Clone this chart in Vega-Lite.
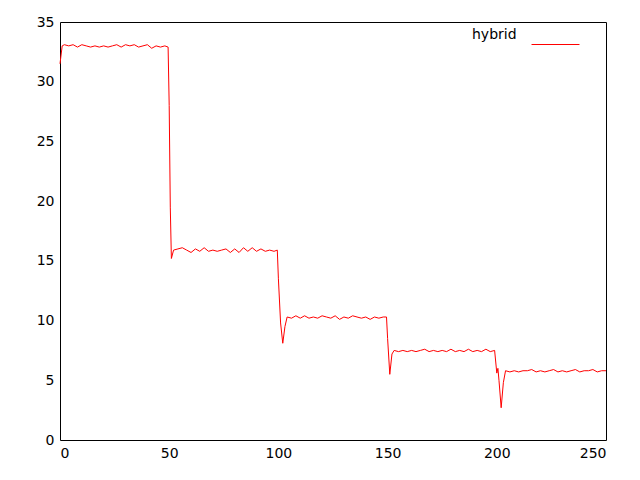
{
  "$schema": "https://vega.github.io/schema/vega-lite/v6.json",
  "width": 546, "height": 418,
  "autosize": "none",
  "padding": {"left": 60, "top": 22, "right": 34, "bottom": 40},
  "background": "white",
  "config": {
    "view": {"stroke": "black", "strokeWidth": 1},
    "axis": {"grid": false, "domain": false, "ticks": false, "labelFont": "DejaVu Sans", "labelFontSize": 14, "labelColor": "black", "labelPadding": 6, "title": null}
  },
  "data": {"values": [
    {"x":0,"y":31.5,"s":"hybrid"},{"x":1,"y":33.0,"s":"hybrid"},{"x":2,"y":33.1,"s":"hybrid"},{"x":4,"y":33.0,"s":"hybrid"},{"x":6,"y":33.1,"s":"hybrid"},{"x":8,"y":32.9,"s":"hybrid"},{"x":10,"y":33.1,"s":"hybrid"},{"x":12,"y":33.0,"s":"hybrid"},{"x":14,"y":32.9,"s":"hybrid"},{"x":16,"y":33.0,"s":"hybrid"},{"x":18,"y":32.9,"s":"hybrid"},{"x":20,"y":33.0,"s":"hybrid"},{"x":22,"y":32.9,"s":"hybrid"},{"x":24,"y":33.0,"s":"hybrid"},{"x":26,"y":33.1,"s":"hybrid"},{"x":28,"y":32.9,"s":"hybrid"},{"x":30,"y":33.1,"s":"hybrid"},{"x":32,"y":33.0,"s":"hybrid"},{"x":34,"y":33.1,"s":"hybrid"},{"x":36,"y":32.9,"s":"hybrid"},{"x":38,"y":33.0,"s":"hybrid"},{"x":40,"y":33.1,"s":"hybrid"},{"x":42,"y":32.8,"s":"hybrid"},{"x":44,"y":33.0,"s":"hybrid"},{"x":46,"y":32.9,"s":"hybrid"},{"x":48,"y":33.0,"s":"hybrid"},{"x":49.5,"y":32.9,"s":"hybrid"},{"x":50,"y":28.0,"s":"hybrid"},{"x":50.5,"y":19.5,"s":"hybrid"},{"x":51,"y":15.2,"s":"hybrid"},{"x":52,"y":15.9,"s":"hybrid"},{"x":54,"y":16.0,"s":"hybrid"},{"x":56,"y":16.1,"s":"hybrid"},{"x":58,"y":15.9,"s":"hybrid"},{"x":60,"y":15.7,"s":"hybrid"},{"x":62,"y":16.0,"s":"hybrid"},{"x":64,"y":15.8,"s":"hybrid"},{"x":66,"y":16.1,"s":"hybrid"},{"x":68,"y":15.8,"s":"hybrid"},{"x":70,"y":15.9,"s":"hybrid"},{"x":72,"y":15.8,"s":"hybrid"},{"x":74,"y":15.9,"s":"hybrid"},{"x":76,"y":16.0,"s":"hybrid"},{"x":78,"y":15.7,"s":"hybrid"},{"x":80,"y":16.0,"s":"hybrid"},{"x":82,"y":15.7,"s":"hybrid"},{"x":84,"y":16.1,"s":"hybrid"},{"x":86,"y":15.8,"s":"hybrid"},{"x":88,"y":16.1,"s":"hybrid"},{"x":90,"y":15.8,"s":"hybrid"},{"x":92,"y":16.0,"s":"hybrid"},{"x":94,"y":15.8,"s":"hybrid"},{"x":96,"y":15.9,"s":"hybrid"},{"x":98,"y":15.8,"s":"hybrid"},{"x":99.5,"y":15.9,"s":"hybrid"},{"x":100,"y":13.5,"s":"hybrid"},{"x":101,"y":9.8,"s":"hybrid"},{"x":102,"y":8.1,"s":"hybrid"},{"x":103,"y":9.5,"s":"hybrid"},{"x":104,"y":10.3,"s":"hybrid"},{"x":106,"y":10.2,"s":"hybrid"},{"x":108,"y":10.4,"s":"hybrid"},{"x":110,"y":10.2,"s":"hybrid"},{"x":112,"y":10.4,"s":"hybrid"},{"x":114,"y":10.2,"s":"hybrid"},{"x":116,"y":10.3,"s":"hybrid"},{"x":118,"y":10.2,"s":"hybrid"},{"x":120,"y":10.4,"s":"hybrid"},{"x":122,"y":10.3,"s":"hybrid"},{"x":124,"y":10.2,"s":"hybrid"},{"x":126,"y":10.4,"s":"hybrid"},{"x":128,"y":10.1,"s":"hybrid"},{"x":130,"y":10.3,"s":"hybrid"},{"x":132,"y":10.2,"s":"hybrid"},{"x":134,"y":10.4,"s":"hybrid"},{"x":136,"y":10.3,"s":"hybrid"},{"x":138,"y":10.2,"s":"hybrid"},{"x":140,"y":10.3,"s":"hybrid"},{"x":142,"y":10.1,"s":"hybrid"},{"x":144,"y":10.3,"s":"hybrid"},{"x":146,"y":10.2,"s":"hybrid"},{"x":148,"y":10.3,"s":"hybrid"},{"x":149.5,"y":10.3,"s":"hybrid"},{"x":150,"y":8.5,"s":"hybrid"},{"x":151,"y":5.5,"s":"hybrid"},{"x":152,"y":7.2,"s":"hybrid"},{"x":153,"y":7.5,"s":"hybrid"},{"x":155,"y":7.4,"s":"hybrid"},{"x":157,"y":7.5,"s":"hybrid"},{"x":159,"y":7.4,"s":"hybrid"},{"x":161,"y":7.5,"s":"hybrid"},{"x":163,"y":7.4,"s":"hybrid"},{"x":165,"y":7.5,"s":"hybrid"},{"x":167,"y":7.6,"s":"hybrid"},{"x":169,"y":7.4,"s":"hybrid"},{"x":171,"y":7.5,"s":"hybrid"},{"x":173,"y":7.4,"s":"hybrid"},{"x":175,"y":7.5,"s":"hybrid"},{"x":177,"y":7.4,"s":"hybrid"},{"x":179,"y":7.6,"s":"hybrid"},{"x":181,"y":7.4,"s":"hybrid"},{"x":183,"y":7.5,"s":"hybrid"},{"x":185,"y":7.4,"s":"hybrid"},{"x":187,"y":7.6,"s":"hybrid"},{"x":189,"y":7.4,"s":"hybrid"},{"x":191,"y":7.5,"s":"hybrid"},{"x":193,"y":7.4,"s":"hybrid"},{"x":195,"y":7.6,"s":"hybrid"},{"x":197,"y":7.4,"s":"hybrid"},{"x":199,"y":7.5,"s":"hybrid"},{"x":200,"y":5.6,"s":"hybrid"},{"x":200.5,"y":6.0,"s":"hybrid"},{"x":201,"y":5.0,"s":"hybrid"},{"x":202,"y":2.7,"s":"hybrid"},{"x":203,"y":4.8,"s":"hybrid"},{"x":204,"y":5.8,"s":"hybrid"},{"x":206,"y":5.7,"s":"hybrid"},{"x":208,"y":5.8,"s":"hybrid"},{"x":210,"y":5.7,"s":"hybrid"},{"x":212,"y":5.8,"s":"hybrid"},{"x":214,"y":5.8,"s":"hybrid"},{"x":216,"y":5.9,"s":"hybrid"},{"x":218,"y":5.7,"s":"hybrid"},{"x":220,"y":5.8,"s":"hybrid"},{"x":222,"y":5.7,"s":"hybrid"},{"x":224,"y":5.8,"s":"hybrid"},{"x":226,"y":5.9,"s":"hybrid"},{"x":228,"y":5.7,"s":"hybrid"},{"x":230,"y":5.8,"s":"hybrid"},{"x":232,"y":5.7,"s":"hybrid"},{"x":234,"y":5.8,"s":"hybrid"},{"x":236,"y":5.9,"s":"hybrid"},{"x":238,"y":5.7,"s":"hybrid"},{"x":240,"y":5.8,"s":"hybrid"},{"x":242,"y":5.8,"s":"hybrid"},{"x":244,"y":5.9,"s":"hybrid"},{"x":246,"y":5.7,"s":"hybrid"},{"x":248,"y":5.8,"s":"hybrid"},{"x":250,"y":5.8,"s":"hybrid"}
  ]},
  "mark": {"type": "line", "strokeWidth": 1, "interpolate": "linear"},
  "encoding": {
    "x": {"field": "x", "type": "quantitative", "scale": {"domain": [0, 250], "nice": false, "zero": false}, "axis": {"values": [0, 50, 100, 150, 200, 250]}},
    "y": {"field": "y", "type": "quantitative", "scale": {"domain": [0, 35], "nice": false}, "axis": {"values": [0, 5, 10, 15, 20, 25, 30, 35]}},
    "color": {"field": "s", "type": "nominal", "scale": {"range": ["red"]},
      "legend": {"orient": "none", "legendX": 412, "legendY": -2, "title": "hybrid", "titleOrient": "left", "titleFont": "DejaVu Sans", "titleFontSize": 14, "titleFontWeight": "normal", "titleColor": "black", "titlePadding": 14, "labelExpr": "''", "symbolType": "stroke", "symbolSize": 2300, "symbolStrokeWidth": 1}
    }
  }
}
